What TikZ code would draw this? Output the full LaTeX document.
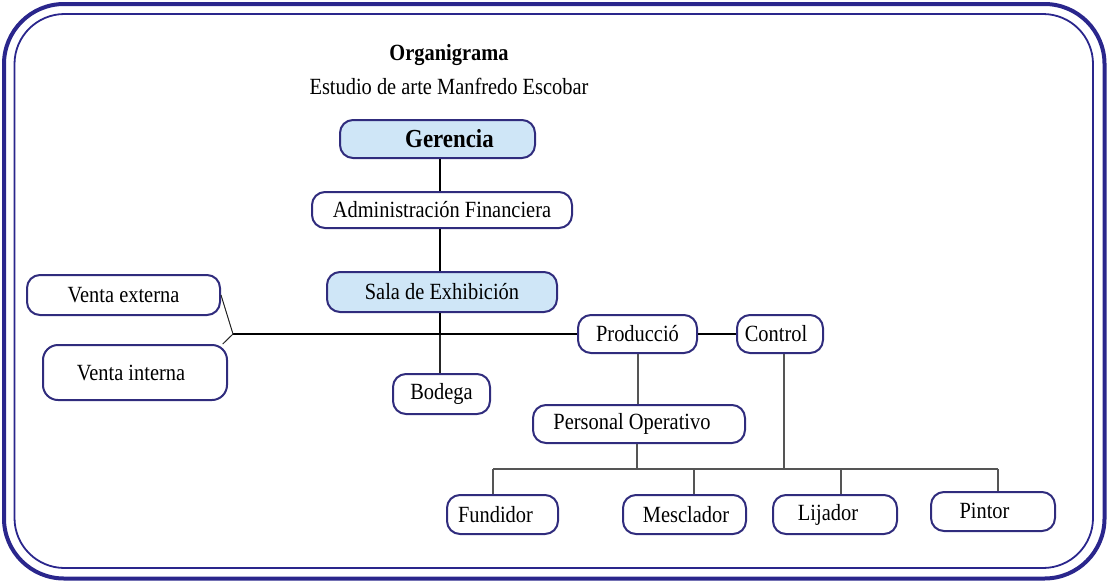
\documentclass[tikz,border=0pt]{standalone}
\usepackage{fontspec}
\setmainfont[FakeStretch=0.88]{Liberation Serif}
\definecolor{navy}{RGB}{48,44,125}
\definecolor{framec}{RGB}{42,38,140}
\definecolor{lblue}{RGB}{207,230,247}
\definecolor{lgray}{RGB}{85,85,85}
\newcommand{\fsn}{\fontsize{23.2}{26}\selectfont}
\tikzset{
  boxn/.style={draw=navy, line width=2pt, rounded corners=13pt, fill=white, inner sep=0pt,
    font=\fsn},
  sz/.style 2 args={minimum width=#1pt, minimum height=#2pt},
  hilite/.style={fill=lblue},
  thickc/.style={line width=2.6pt, black},
  thinc/.style={line width=1pt, black!85},
  grayc/.style={line width=1.6pt, lgray},
}
\begin{document}
\begin{tikzpicture}[x=1pt,y=-1pt]
\useasboundingbox (0,0) rectangle (1107,581);
% frames
\draw[framec, line width=4pt, rounded corners=60pt] (4,4) rectangle (1104.5,578.5);
\draw[framec, line width=1.8pt, rounded corners=50pt] (14.5,14) rectangle (1093,568);
% titles
\node[font=\fsn\bfseries] (t1) at (449,55) {Organigrama};
\node[font=\fsn] (t2) at (449,86) {Estudio de arte Manfredo Escobar};
% nodes
\node[boxn, hilite, sz={195}{38}, font=\fontsize{26}{29}\selectfont\bfseries] (ger) at (437.5,139) {\hspace*{24pt}Gerencia};
\node[boxn, sz={260}{36}] (adm) at (442,210) {Administración Financiera};
\node[boxn, hilite, sz={230}{40}] (sala) at (442,292) {Sala de Exhibición};
\node[boxn, sz={193}{40}] (ve) at (123.5,295) {Venta externa};
\node[boxn, sz={184}{55}, rounded corners=15pt] (vi) at (135,372.5) {Venta interna\hspace*{8pt}};
\node[boxn, sz={97}{40}] (bod) at (441.5,394) {Bodega};
\node[boxn, sz={119}{38}] (prod) at (637.5,334) {Producció};
\node[boxn, sz={86}{38}] (ctl) at (780,334) {Control\hspace*{8pt}};
\node[boxn, sz={212}{38}] (po) at (639,424) {Personal Operativo\hspace*{14pt}};
\node[boxn, sz={111}{39}] (fun) at (502.5,514.5) {Fundidor\hspace*{14pt}};
\node[boxn, sz={123}{39}] (mes) at (684.5,514.5) {\hspace*{3pt}Mesclador};
\node[boxn, sz={124}{39}] (lij) at (835,514.5) {Lijador\hspace*{14pt}};
\node[boxn, sz={124}{39}] (pin) at (993,511.5) {\raisebox{1.5pt}{Pintor}\hspace*{17pt}};
% coordinates
\coordinate (j) at (233,334);
\coordinate (bf) at (493,469);
\coordinate (bm) at (694,469);
\coordinate (bl) at (841,469);
\coordinate (bp) at (998,469);
\coordinate (bc) at (784,469);
% connectors
\draw[thickc] (ger.south -| 440,0) -- (adm.north -| 440,0);
\draw[thickc] (adm.south -| 440,0) -- (sala.north -| 440,0);
\draw[thickc] (sala.south -| 440,0) -- (440,334);
\draw[line width=1.8pt, black!85] (440,334) -- (bod.north -| 440,0);
\draw[thickc] (j) -- (j -| prod.west);
\draw[thickc] (prod.east) -- (ctl.west);
\draw[thinc] (ve.east) -- (j) -- (vi.18);
\draw[grayc] (638,0 |- prod.south) -- (638,0 |- po.north);
\draw[grayc] (637,0 |- po.south) -- (637,469);
\draw[grayc] (bc |- ctl.south) -- (bc);
\draw[grayc] (bf) -- (bp);
\draw[grayc] (bf) -- (bf |- fun.north);
\draw[grayc] (bm) -- (bm |- mes.north);
\draw[grayc] (bl) -- (bl |- lij.north);
\draw[grayc] (bp) -- (bp |- pin.north);
\end{tikzpicture}
\end{document}
